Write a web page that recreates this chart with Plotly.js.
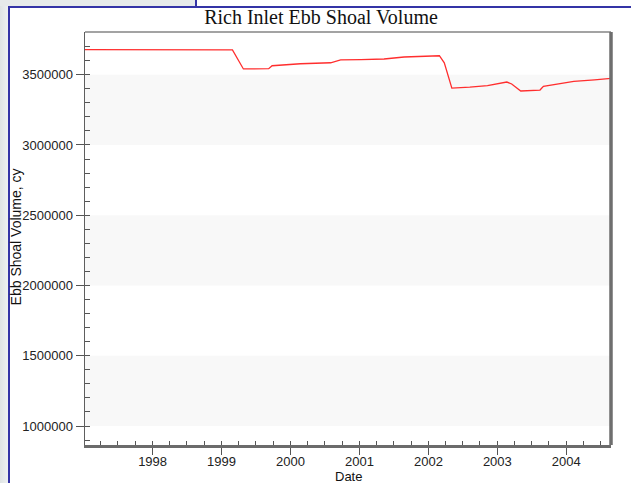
<!DOCTYPE html>
<html>
<head>
<meta charset="utf-8">
<script src="https://cdn.plot.ly/plotly-3.0.1.min.js"></script>
<style>
  html, body { margin: 0; padding: 0; width: 631px; height: 483px; overflow: hidden; background: #ffffff; }
  .deco { position: absolute; }
  #chart { position: absolute; left: 0; top: 0; width: 631px; height: 483px; }
</style>
</head>
<body>
<div class="deco" style="left:0;top:0;width:8px;height:483px;background:linear-gradient(90deg,#dfe4e4,#eef1f1);"></div>
<div class="deco" style="left:0;top:0;width:195px;height:6px;background:#e6eaea;"></div>
<div class="deco" style="left:195px;top:0;width:2px;height:7px;background:#3434a6;"></div>
<div class="deco" style="left:8px;top:6px;width:623px;height:2px;background:#3434a6;"></div>
<div class="deco" style="left:8px;top:6px;width:2px;height:477px;background:#3434a6;"></div>
<div id="chart"></div>
<script>
// Data
const dates = [
  '1997-01-08','1997-07-01','1998-01-01','1998-07-01','1999-01-01','1999-02-28',
  '1999-04-27','1999-06-14','1999-09-08','1999-09-26','2000-02-23','2000-08-01',
  '2000-09-23','2001-01-08','2001-05-11','2001-08-25','2002-01-14','2002-02-28',
  '2002-03-26','2002-05-05','2002-08-08','2002-11-10','2003-02-20','2003-03-18',
  '2003-05-05','2003-08-15','2003-09-02','2003-12-02','2004-02-10','2004-05-30',
  '2004-08-25'
];
const volumes = [
  3678000,3678000,3679000,3678000,3678000,3677000,
  3541000,3541000,3543000,3564000,3578000,3585000,
  3605000,3607000,3612000,3626000,3636000,3635000,
  3585000,3405000,3412000,3422000,3448000,3434000,
  3384000,3391000,3417000,3434000,3452000,3464000,
  3474000
];
const yTicks = [1000000,1500000,2000000,2500000,3000000,3500000];
const xTickYears = ['1998','1999','2000','2001','2002','2003','2004'];

// alternating background bands between major y ticks
const bands = [];
for (let i = 0; i < yTicks.length - 1; i += 2) {
  bands.push({type:'rect', xref:'paper', yref:'y', x0:0, x1:1, y0:yTicks[i], y1:yTicks[i+1],
    fillcolor:'#f8f8f8', line:{width:0}, layer:'below'});
}
const frame = [
  {type:'line', xref:'paper', yref:'paper', x0:0, x1:1, y0:1, y1:1, line:{color:'#a3a3a3', width:2}, layer:'above'},
  {type:'line', xref:'paper', yref:'paper', x0:1, x1:1, y0:0, y1:1, line:{color:'#6e6e6e', width:3.5}, layer:'above'}
];

const trace = {
  x: dates, y: volumes, type:'scatter', mode:'lines',
  line:{color:'#ff2e2e', width:1.3}, hoverinfo:'skip'
};

const layout = {
  width:631, height:483,
  margin:{l:85, r:20, t:32, b:38, pad:0},
  paper_bgcolor:'rgba(0,0,0,0)', plot_bgcolor:'#ffffff',
  showlegend:false,
  title:{text:'Rich Inlet Ebb Shoal Volume', x:0.5087, xref:'container', xanchor:'center',
    y:0.965, yref:'container', yanchor:'middle',
    font:{family:'Liberation Serif, Times New Roman, serif', size:20, color:'#111'}},
  font:{family:'Liberation Sans, Arial, sans-serif', size:13, color:'#222'},
  xaxis:{
    type:'date', range:['1997-01-08','2004-08-25'],
    tickmode:'array', tickvals:xTickYears.map(y => y + '-01-01'), ticktext:xTickYears,
    ticks:'outside', ticklen:7, tickwidth:1, tickcolor:'#555',
    ticklabelstandoff:-5,
    showline:true, linecolor:'#6b6b6b', linewidth:3,
    showgrid:false, zeroline:false,
    minor:{dtick:'M3', tick0:'1997-01-01', ticks:'inside', ticklen:4, tickcolor:'#555', tickwidth:1, showgrid:false},
    tickfont:{size:13, color:'#222'}
  },
  yaxis:{
    range:[865000, 3804000],
    tickmode:'array', tickvals:yTicks, ticktext:yTicks.map(v => String(v)),
    ticks:'outside', ticklen:8, tickwidth:1, tickcolor:'#555',
    showline:true, linecolor:'#5e5e5e', linewidth:1.5,
    showgrid:false, zeroline:false,
    minor:{dtick:100000, tick0:0, ticks:'inside', ticklen:5, tickcolor:'#555', tickwidth:1, showgrid:false},
    tickfont:{size:13, color:'#222'}
  },
  annotations:[
    {text:'Date', xref:'paper', yref:'paper', x:0.5, y:-0.0768, xanchor:'center', yanchor:'middle',
      showarrow:false, font:{size:13, color:'#111'}},
    {text:'Ebb Shoal Volume, cy', xref:'paper', yref:'paper', x:-0.1312, y:0.505, xanchor:'center', yanchor:'middle',
      textangle:-90, showarrow:false, font:{size:14, color:'#111'}}
  ],
  shapes: bands.concat(frame)
};

Plotly.newPlot('chart', [trace], layout, {staticPlot:true, displayModeBar:false});
</script>
</body>
</html>
